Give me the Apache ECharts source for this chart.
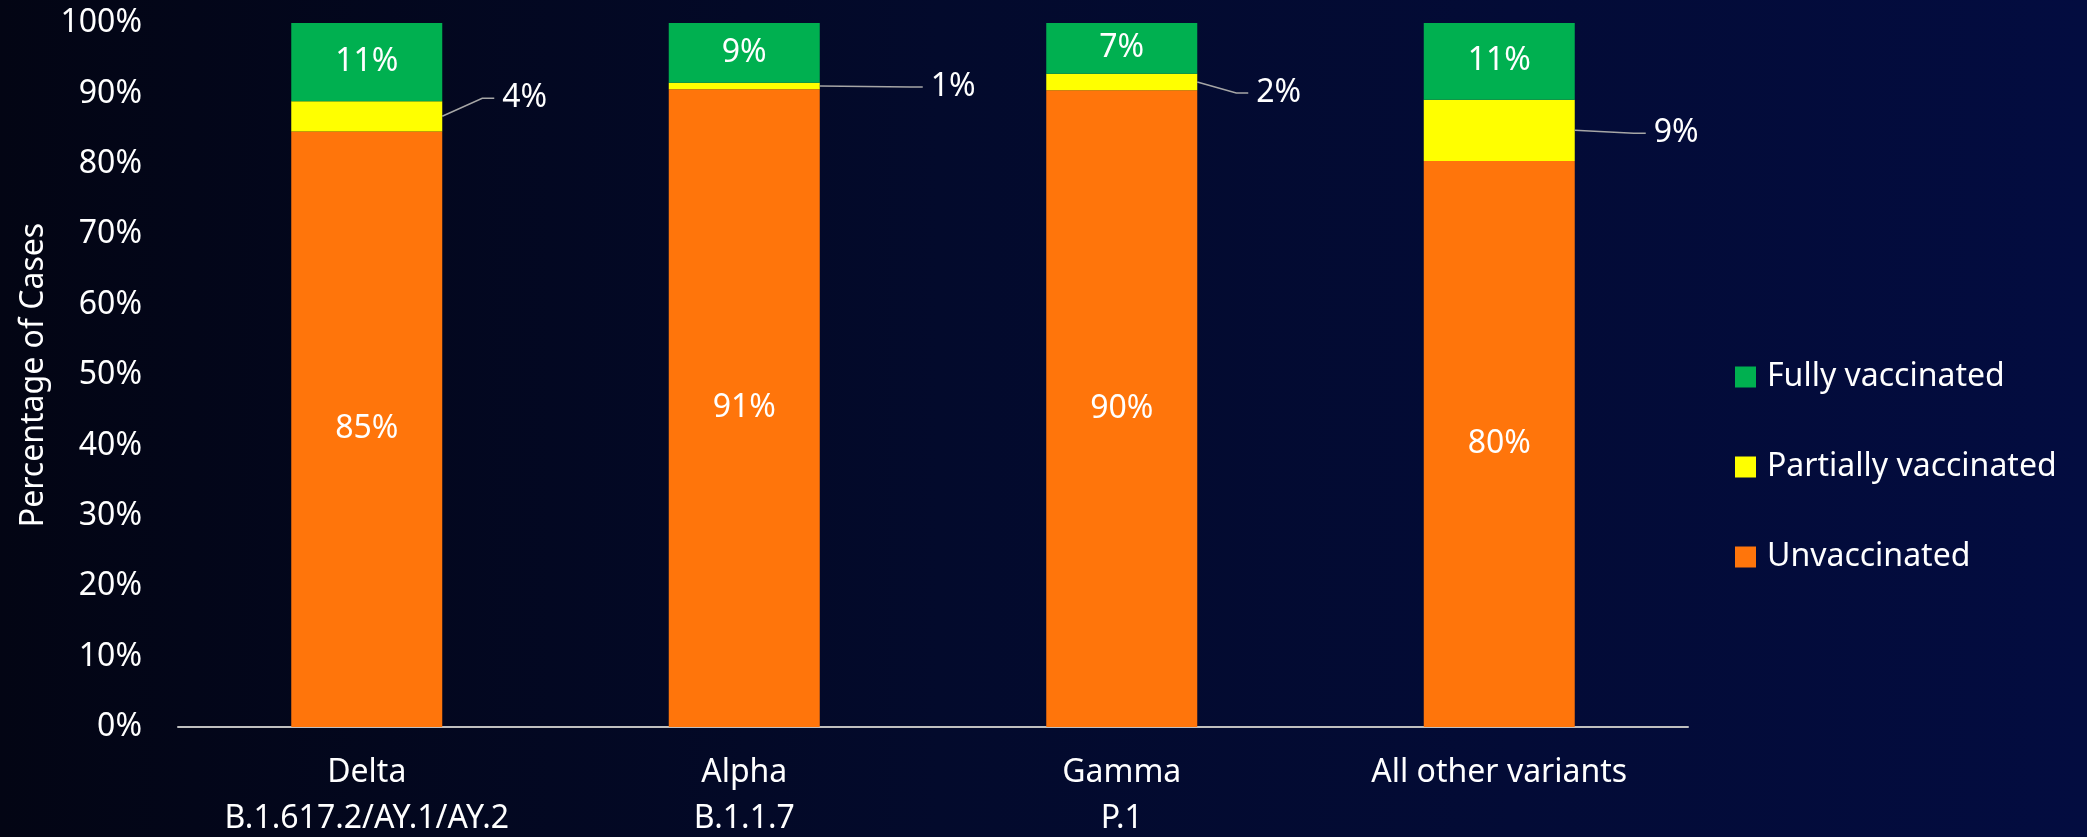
<!DOCTYPE html>
<html>
<head>
<meta charset="utf-8">
<script src="https://cdn.jsdelivr.net/npm/echarts@6/dist/echarts.min.js"></script>
<style>
  html, body { margin: 0; padding: 0; }
  #chart {
    width: 2087px; height: 837px;
    background: linear-gradient(to right, #030514 0%, #030a2c 45%, #030c40 100%);
  }
</style>
</head>
<body>
<div id="chart"></div>
<script>
const categories = ['Delta\nB.1.617.2/AY.1/AY.2', 'Alpha\nB.1.1.7', 'Gamma\nP.1', 'All other variants'];
const seriesNames = ['Unvaccinated', 'Partially vaccinated', 'Fully vaccinated'];
const unvaccinated = [84.6, 90.6, 90.45, 80.4];
const partiallyVaccinated = [4.3, 0.9, 2.35, 8.7];
const fullyVaccinated = [11.1, 8.5, 7.2, 10.9];
const yTicks = { min: 0, max: 100, interval: 10 };

// label offsets (style) for the outside "Partially vaccinated" labels,
// relative to the bar's right edge / segment middle
const partialLabelOffsets = [[60, -18], [111, 1], [59, 11], [79, 3]];

const FONT = 'Noto Sans';
const BAR_FRACTION = 0.4;
const chart = echarts.init(document.getElementById('chart'), null, { renderer: 'canvas' });

const pctFmt = p => Math.round(p.value) + '%';

function renderPartialLabel(params, api) {
  const i = params.dataIndex;
  const base = api.value(1);
  const seg = api.value(2);
  const xc = api.coord([i, 0])[0];
  const band = api.size([1, 0])[0];
  const barRight = xc + band * BAR_FRACTION / 2;
  const yMid = api.coord([i, base + seg / 2])[1];
  const o = partialLabelOffsets[i];
  const lx = barRight + o[0];
  const ly = yMid + o[1];
  const gap = 8, seg2 = 12;
  return {
    type: 'group',
    children: [
      {
        type: 'polyline',
        shape: { points: [[barRight, yMid], [lx - gap - seg2, ly], [lx - gap, ly]] },
        style: { stroke: '#A6A6A6', lineWidth: 1.5, fill: null }
      },
      {
        type: 'text',
        style: {
          text: Math.round(seg) + '%',
          x: lx, y: ly,
          fill: '#ffffff',
          font: '32px "' + FONT + '"',
          align: 'left', verticalAlign: 'middle'
        }
      }
    ]
  };
}

chart.setOption({
  backgroundColor: 'transparent',
  animation: false,
  textStyle: { fontFamily: FONT },
  grid: { left: 178, right: 399, top: 23, bottom: 110, containLabel: false, outerBoundsMode: 'none' },
  legend: {
    orient: 'vertical',
    left: 1735,
    top: 357,
    padding: 0,
    itemWidth: 21,
    itemHeight: 21,
    itemGap: 50,
    icon: 'rect',
    data: ['Fully vaccinated', 'Partially vaccinated', 'Unvaccinated'],
    textStyle: { color: '#ffffff', fontSize: 32, fontFamily: FONT, lineHeight: 40, padding: [0, 0, 0, 6] }
  },
  xAxis: {
    type: 'category',
    data: categories,
    axisLine: { show: true, lineStyle: { color: '#BFBFBF', width: 2 } },
    axisTick: { show: false },
    axisLabel: { color: '#ffffff', fontSize: 32, fontFamily: FONT, lineHeight: 46, margin: 23, interval: 0 },
    splitLine: { show: false }
  },
  yAxis: {
    type: 'value',
    min: yTicks.min, max: yTicks.max, interval: yTicks.interval,
    name: 'Percentage of Cases',
    nameLocation: 'middle',
    nameGap: 126,
    nameTextStyle: { color: '#ffffff', fontSize: 32, fontFamily: FONT },
    axisLine: { show: false },
    axisTick: { show: false },
    splitLine: { show: false },
    axisLabel: { color: '#ffffff', fontSize: 32, fontFamily: FONT, margin: 36, formatter: '{value}%' }
  },
  series: [
    {
      name: seriesNames[0], type: 'bar', stack: 'total', barWidth: (BAR_FRACTION * 100) + '%',
      data: unvaccinated,
      itemStyle: { color: '#FF750B' },
      label: { show: true, position: 'inside', color: '#ffffff', fontSize: 32, fontFamily: FONT, formatter: pctFmt }
    },
    {
      name: seriesNames[1], type: 'bar', stack: 'total', barWidth: (BAR_FRACTION * 100) + '%',
      data: partiallyVaccinated,
      itemStyle: { color: '#FFFF00' },
      label: { show: false }
    },
    {
      name: seriesNames[2], type: 'bar', stack: 'total', barWidth: (BAR_FRACTION * 100) + '%',
      data: fullyVaccinated,
      itemStyle: { color: '#00B050' },
      label: { show: true, position: 'inside', color: '#ffffff', fontSize: 32, fontFamily: FONT, formatter: pctFmt }
    },
    {
      type: 'custom',
      silent: true,
      z: 5,
      renderItem: renderPartialLabel,
      encode: { x: 0, y: 1 },
      data: categories.map((c, i) => [i, unvaccinated[i], partiallyVaccinated[i]])
    }
  ]
});
</script>
</body>
</html>
